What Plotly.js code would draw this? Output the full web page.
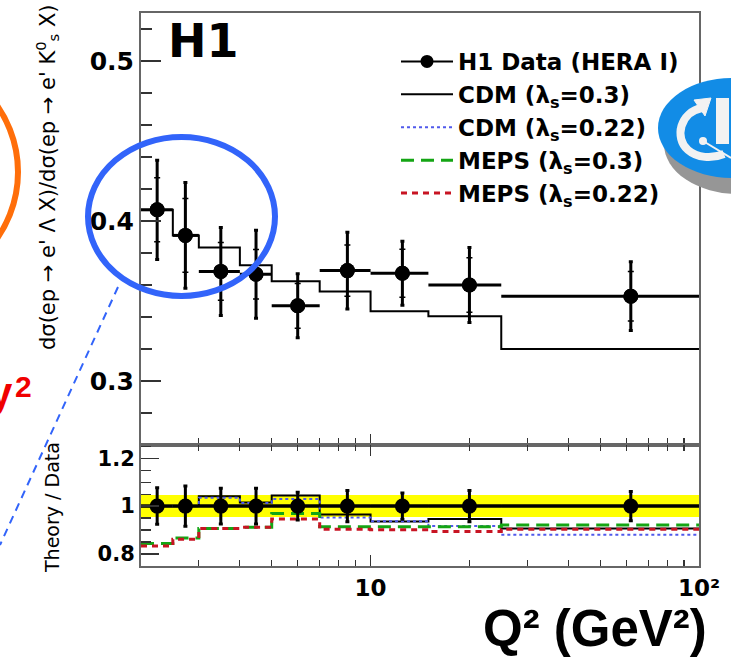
<!DOCTYPE html>
<html><head><meta charset="utf-8">
<script src="https://cdn.plot.ly/plotly-3.0.1.min.js"></script>
<style>html,body{margin:0;padding:0;background:#fff;} #chart{width:731px;height:660px;}</style>
</head><body><div id="chart"></div>
<script>
// ---------------- data ----------------
const binEdges   = [2, 2.5, 3, 4, 5, 7, 10, 15, 25, 100];
const q2Centers  = [2.24, 2.73, 3.50, 4.48, 6.0, 8.5, 12.5, 20.0, 62.0];
const ratioData  = [0.407, 0.391, 0.3685, 0.3667, 0.347, 0.369, 0.3673, 0.360, 0.353];
const ratioErr   = [0.031, 0.033, 0.0275, 0.0275, 0.020, 0.024, 0.020, 0.0235, 0.0215];
const ratioStat  = [0.020, 0.023, 0.018, 0.0155, 0.014, 0.016, 0.015, 0.017, 0.0155];
const cdm030     = [0.407, 0.391, 0.3835, 0.3723, 0.3623, 0.356, 0.3436, 0.3405, 0.320];
const cdm022Ratio  = [1.0, 1.0, 1.035, 1.013, 1.03, 0.952, 0.937, 0.917, 0.880];
const meps030Ratio = [0.844, 0.867, 0.907, 0.912, 0.969, 0.914, 0.914, 0.914, 0.921];
const meps022Ratio = [0.833, 0.862, 0.907, 0.912, 0.946, 0.903, 0.901, 0.894, 0.903];
const normUnc = 0.046;
const xTickVals = [10, 100];
const xTickText = ['10', '10²'];
const xMinorVals = [3, 4, 5, 6, 7, 8, 9, 20, 30, 40, 50, 60, 70, 80, 90];
const yTopTicks = [0.3, 0.4, 0.5];
const legendNames = ['H1 Data (HERA I)', 'CDM (λ<sub>s</sub>=0.3)', 'CDM (λ<sub>s</sub>=0.22)',
                     'MEPS (λ<sub>s</sub>=0.3)', 'MEPS (λ<sub>s</sub>=0.22)'];

// ---------------- derived ----------------
const stepY = a => a.concat([a[a.length - 1]]);
const ones = ratioData.map(v => v / v);
const errXplus  = q2Centers.map((c, i) => binEdges[i + 1] - c);
const errXminus = q2Centers.map((c, i) => c - binEdges[i]);
const relErr = ratioErr.map((e, i) => e / ratioData[i]);
const cdm030Ratio = cdm030.map((v, i) => v / ratioData[i]);
const bandLo = ones.map(v => v - normUnc);
const bandHi = ones.map(v => v + normUnc);

const W = 731, H = 660;
const fx = p => p / W, fy = p => 1 - p / H;
const FONT = 'DejaVu Sans, Liberation Sans, Arial, sans-serif';
const ARIAL = 'Liberation Sans, Arial, sans-serif';

const traces = [
  {x: binEdges, y: stepY(bandLo), xaxis: 'x2', yaxis: 'y2', mode: 'lines', line: {shape: 'hv', width: 0, color: '#ffff00'}, showlegend: false, hoverinfo: 'skip'},
  {x: binEdges, y: stepY(bandHi), xaxis: 'x2', yaxis: 'y2', mode: 'lines', fill: 'tonexty', fillcolor: '#ffff00', line: {shape: 'hv', width: 0, color: '#ffff00'}, showlegend: false, hoverinfo: 'skip'},
  {x: binEdges, y: stepY(ones), xaxis: 'x2', yaxis: 'y2', mode: 'lines', line: {shape: 'hv', width: 3, color: '#000'}, showlegend: false},
  {x: binEdges, y: stepY(cdm030Ratio), xaxis: 'x2', yaxis: 'y2', mode: 'lines', line: {shape: 'hv', width: 2, color: '#000'}, showlegend: false},
  {x: binEdges, y: stepY(cdm022Ratio), xaxis: 'x2', yaxis: 'y2', mode: 'lines', name: legendNames[2], legendgroup: 'g3', legendrank: 3,
   line: {shape: 'hv', width: 2, color: 'rgb(80,90,235)', dash: 'dot'}},
  {x: binEdges, y: stepY(meps030Ratio), xaxis: 'x2', yaxis: 'y2', mode: 'lines', name: legendNames[3], legendgroup: 'g4', legendrank: 4,
   line: {shape: 'hv', width: 3, color: 'rgb(20,165,20)', dash: '13px,7px'}},
  {x: binEdges, y: stepY(meps022Ratio), xaxis: 'x2', yaxis: 'y2', mode: 'lines', name: legendNames[4], legendgroup: 'g5', legendrank: 5,
   line: {shape: 'hv', width: 3, color: 'rgb(200,20,35)', dash: '6px,5px'}},
  {x: q2Centers, y: ones, xaxis: 'x2', yaxis: 'y2', mode: 'markers', showlegend: false,
   marker: {size: 15, color: '#000'},
   error_y: {type: 'data', array: relErr, thickness: 3, width: 2, color: '#000'},
   error_x: {type: 'data', symmetric: false, array: errXplus, arrayminus: errXminus, thickness: 3, width: 0, color: '#000'}},
  {x: binEdges, y: stepY(cdm030), xaxis: 'x', yaxis: 'y', mode: 'lines', name: legendNames[1], legendgroup: 'g2', legendrank: 2,
   line: {shape: 'hv', width: 2, color: '#000'}},
  {x: q2Centers, y: ratioData, xaxis: 'x', yaxis: 'y', mode: 'markers', showlegend: false,
   marker: {size: 15, color: '#000'},
   error_y: {type: 'data', array: ratioErr, thickness: 3, width: 2, color: '#000'},
   error_x: {type: 'data', symmetric: false, array: errXplus, arrayminus: errXminus, thickness: 3, width: 0, color: '#000'}},
  {x: q2Centers, y: ratioData, xaxis: 'x', yaxis: 'y', mode: 'markers', showlegend: false,
   marker: {size: 15, color: '#000'},
   error_y: {type: 'data', array: ratioStat, thickness: 1.5, width: 3, color: '#000'}},
  {x: [null], y: [null], xaxis: 'x', yaxis: 'y', mode: 'lines+markers', name: legendNames[0], legendgroup: 'g1', legendrank: 1,
   marker: {size: 13, color: '#000'}, line: {width: 2, color: '#000'}}
];

const blue = 'rgb(50,100,250)';
const shapes = [
  // slide decorations
  {type: 'circle', xref: 'paper', yref: 'paper', x0: fx(-214), x1: fx(18), y0: fy(288), y1: fy(56), line: {color: 'rgb(255,110,10)', width: 6}},
  {type: 'line', xref: 'paper', yref: 'paper', x0: fx(118), y0: fy(287), x1: fx(0), y1: fy(545), line: {color: blue, width: 2, dash: '8px,6px'}},
  {type: 'circle', xref: 'paper', yref: 'paper', x0: fx(88), x1: fx(275), y0: fy(296), y1: fy(137), line: {color: blue, width: 6}},
  // H1 logo (decoration)
  {type: 'circle', xref: 'paper', yref: 'paper', x0: fx(664), x1: fx(812), y0: fy(194), y1: fy(94), fillcolor: 'rgb(150,150,150)', line: {width: 0}},
  {type: 'circle', xref: 'paper', yref: 'paper', x0: fx(658), x1: fx(806), y0: fy(178), y1: fy(78), fillcolor: 'rgb(18,140,230)', line: {width: 0}},
  {type: 'rect', xref: 'paper', yref: 'paper', x0: fx(716), x1: fx(729), y0: fy(144), y1: fy(98), fillcolor: '#f2f2f2', line: {width: 0}},
  {type: 'path', xref: 'paper', yref: 'paper',
   path: `M ${fx(702)} ${fy(108)} C ${fx(680)} ${fy(112)}, ${fx(674)} ${fy(138)}, ${fx(688)} ${fy(150)} C ${fx(697)} ${fy(158)}, ${fx(712)} ${fy(159)}, ${fx(724)} ${fy(154)}`,
   line: {color: '#f2f2f2', width: 8}},
  {type: 'path', xref: 'paper', yref: 'paper',
   path: `M ${fx(694)} ${fy(100)} L ${fx(711)} ${fy(98)} L ${fx(705)} ${fy(116)} Z`, fillcolor: '#f2f2f2', line: {color: '#f2f2f2', width: 1}},
  {type: 'line', xref: 'paper', yref: 'paper', x0: fx(703), y0: fy(141), x1: fx(731), y1: fy(158), line: {color: '#f2f2f2', width: 2}},
  {type: 'circle', xref: 'paper', yref: 'paper', x0: fx(699), x1: fx(707), y0: fy(145), y1: fy(137), fillcolor: '#f2f2f2', line: {width: 0}}
];

const annotations = [
  {xref: 'paper', yref: 'paper', x: fx(203), y: fy(41), text: 'H1', showarrow: false, xanchor: 'center', yanchor: 'middle',
   font: {family: FONT, size: 46, weight: 'bold', color: '#000'}},
  {xref: 'paper', yref: 'paper', x: fx(47), y: fy(177), textangle: -90, showarrow: false, xanchor: 'center', yanchor: 'middle',
   text: 'dσ(ep → e\' Λ X)/dσ(ep → e\' K<sup>0</sup><sub>s</sub> X)', font: {family: FONT, size: 21, color: '#000'}},
  {xref: 'paper', yref: 'paper', x: fx(52), y: fy(508), textangle: -90, showarrow: false, xanchor: 'center', yanchor: 'middle',
   text: 'Theory / Data', font: {family: FONT, size: 19, color: '#000'}},
  {xref: 'paper', yref: 'paper', x: fx(595), y: fy(628), showarrow: false, xanchor: 'center', yanchor: 'middle',
   text: 'Q² (GeV²)', font: {family: ARIAL, size: 51, weight: 'bold', color: '#000'}},
  {xref: 'paper', yref: 'paper', x: fx(15), y: fy(392), showarrow: false, xanchor: 'right', yanchor: 'middle',
   text: 'y', font: {family: ARIAL, size: 42, weight: 'bold', color: 'rgb(240,0,0)'}},
  {xref: 'paper', yref: 'paper', x: fx(13), y: fy(386), showarrow: false, xanchor: 'left', yanchor: 'middle',
   text: '2', font: {family: ARIAL, size: 30, weight: 'bold', color: 'rgb(240,0,0)'}}
];

const axLine = {showline: true, mirror: true, linecolor: '#666', linewidth: 2, showgrid: false, zeroline: false};

const layout = {
  width: W, height: H, margin: {l: 0, r: 0, t: 0, b: 0},
  paper_bgcolor: '#fff', plot_bgcolor: '#fff',
  font: {family: FONT, color: '#000'},
  showlegend: true,
  legend: {x: fx(396), y: fy(40), xanchor: 'left', yanchor: 'top', bgcolor: 'rgba(255,255,255,0)',
           font: {family: FONT, size: 23, weight: 'bold', color: '#000'}, tracegroupgap: 0, itemwidth: 52, traceorder: 'grouped'},
  xaxis: Object.assign({}, axLine, {type: 'log', range: [Math.log10(2), 2], domain: [fx(141), fx(699)], anchor: 'y',
    tickmode: 'array', tickvals: xTickVals, ticktext: xTickText, showticklabels: false, ticks: 'inside', ticklen: 11, tickwidth: 1.3, tickcolor: '#333',
    minor: {tickmode: 'array', tickvals: xMinorVals, ticks: 'inside', ticklen: 7, tickwidth: 1.2, tickcolor: '#333'}}),
  yaxis: Object.assign({}, axLine, {range: [0.26, 0.53], domain: [fy(445), fy(13)], anchor: 'x',
    tickmode: 'array', tickvals: yTopTicks, ticktext: yTopTicks.map(v => v.toFixed(1)), ticks: 'inside', ticklen: 20, tickwidth: 1.3, tickcolor: '#333',
    tickfont: {family: FONT, size: 25, weight: 'bold', color: '#000'},
    minor: {dtick: 0.02, tick0: 0, ticks: 'inside', ticklen: 11, tickwidth: 1.2, tickcolor: '#333'}}),
  xaxis2: Object.assign({}, axLine, {type: 'log', range: [Math.log10(2), 2], domain: [fx(141), fx(699)], anchor: 'y2', mirror: 'allticks',
    tickmode: 'array', tickvals: xTickVals, ticktext: xTickText, ticks: 'inside', ticklen: 11, tickwidth: 1.3, tickcolor: '#333',
    tickfont: {family: FONT, size: 23, weight: 'bold', color: '#000'},
    minor: {tickmode: 'array', tickvals: xMinorVals, ticks: 'inside', ticklen: 6, tickwidth: 1.2, tickcolor: '#333'}}),
  yaxis2: Object.assign({}, axLine, {range: [0.75, 1.255], domain: [fy(566), fy(445)], anchor: 'x2',
    tick0: 0.8, dtick: 0.2, ticks: 'inside', ticklen: 18, tickwidth: 1.3, tickcolor: '#333',
    tickfont: {family: FONT, size: 21, weight: 'bold', color: '#000'},
    minor: {dtick: 0.05, tick0: 0, ticks: 'inside', ticklen: 10, tickwidth: 1.2, tickcolor: '#333'}}),
  shapes: shapes,
  annotations: annotations
};

Plotly.newPlot('chart', traces, layout, {staticPlot: true, displayModeBar: false});
</script>
</body></html>
